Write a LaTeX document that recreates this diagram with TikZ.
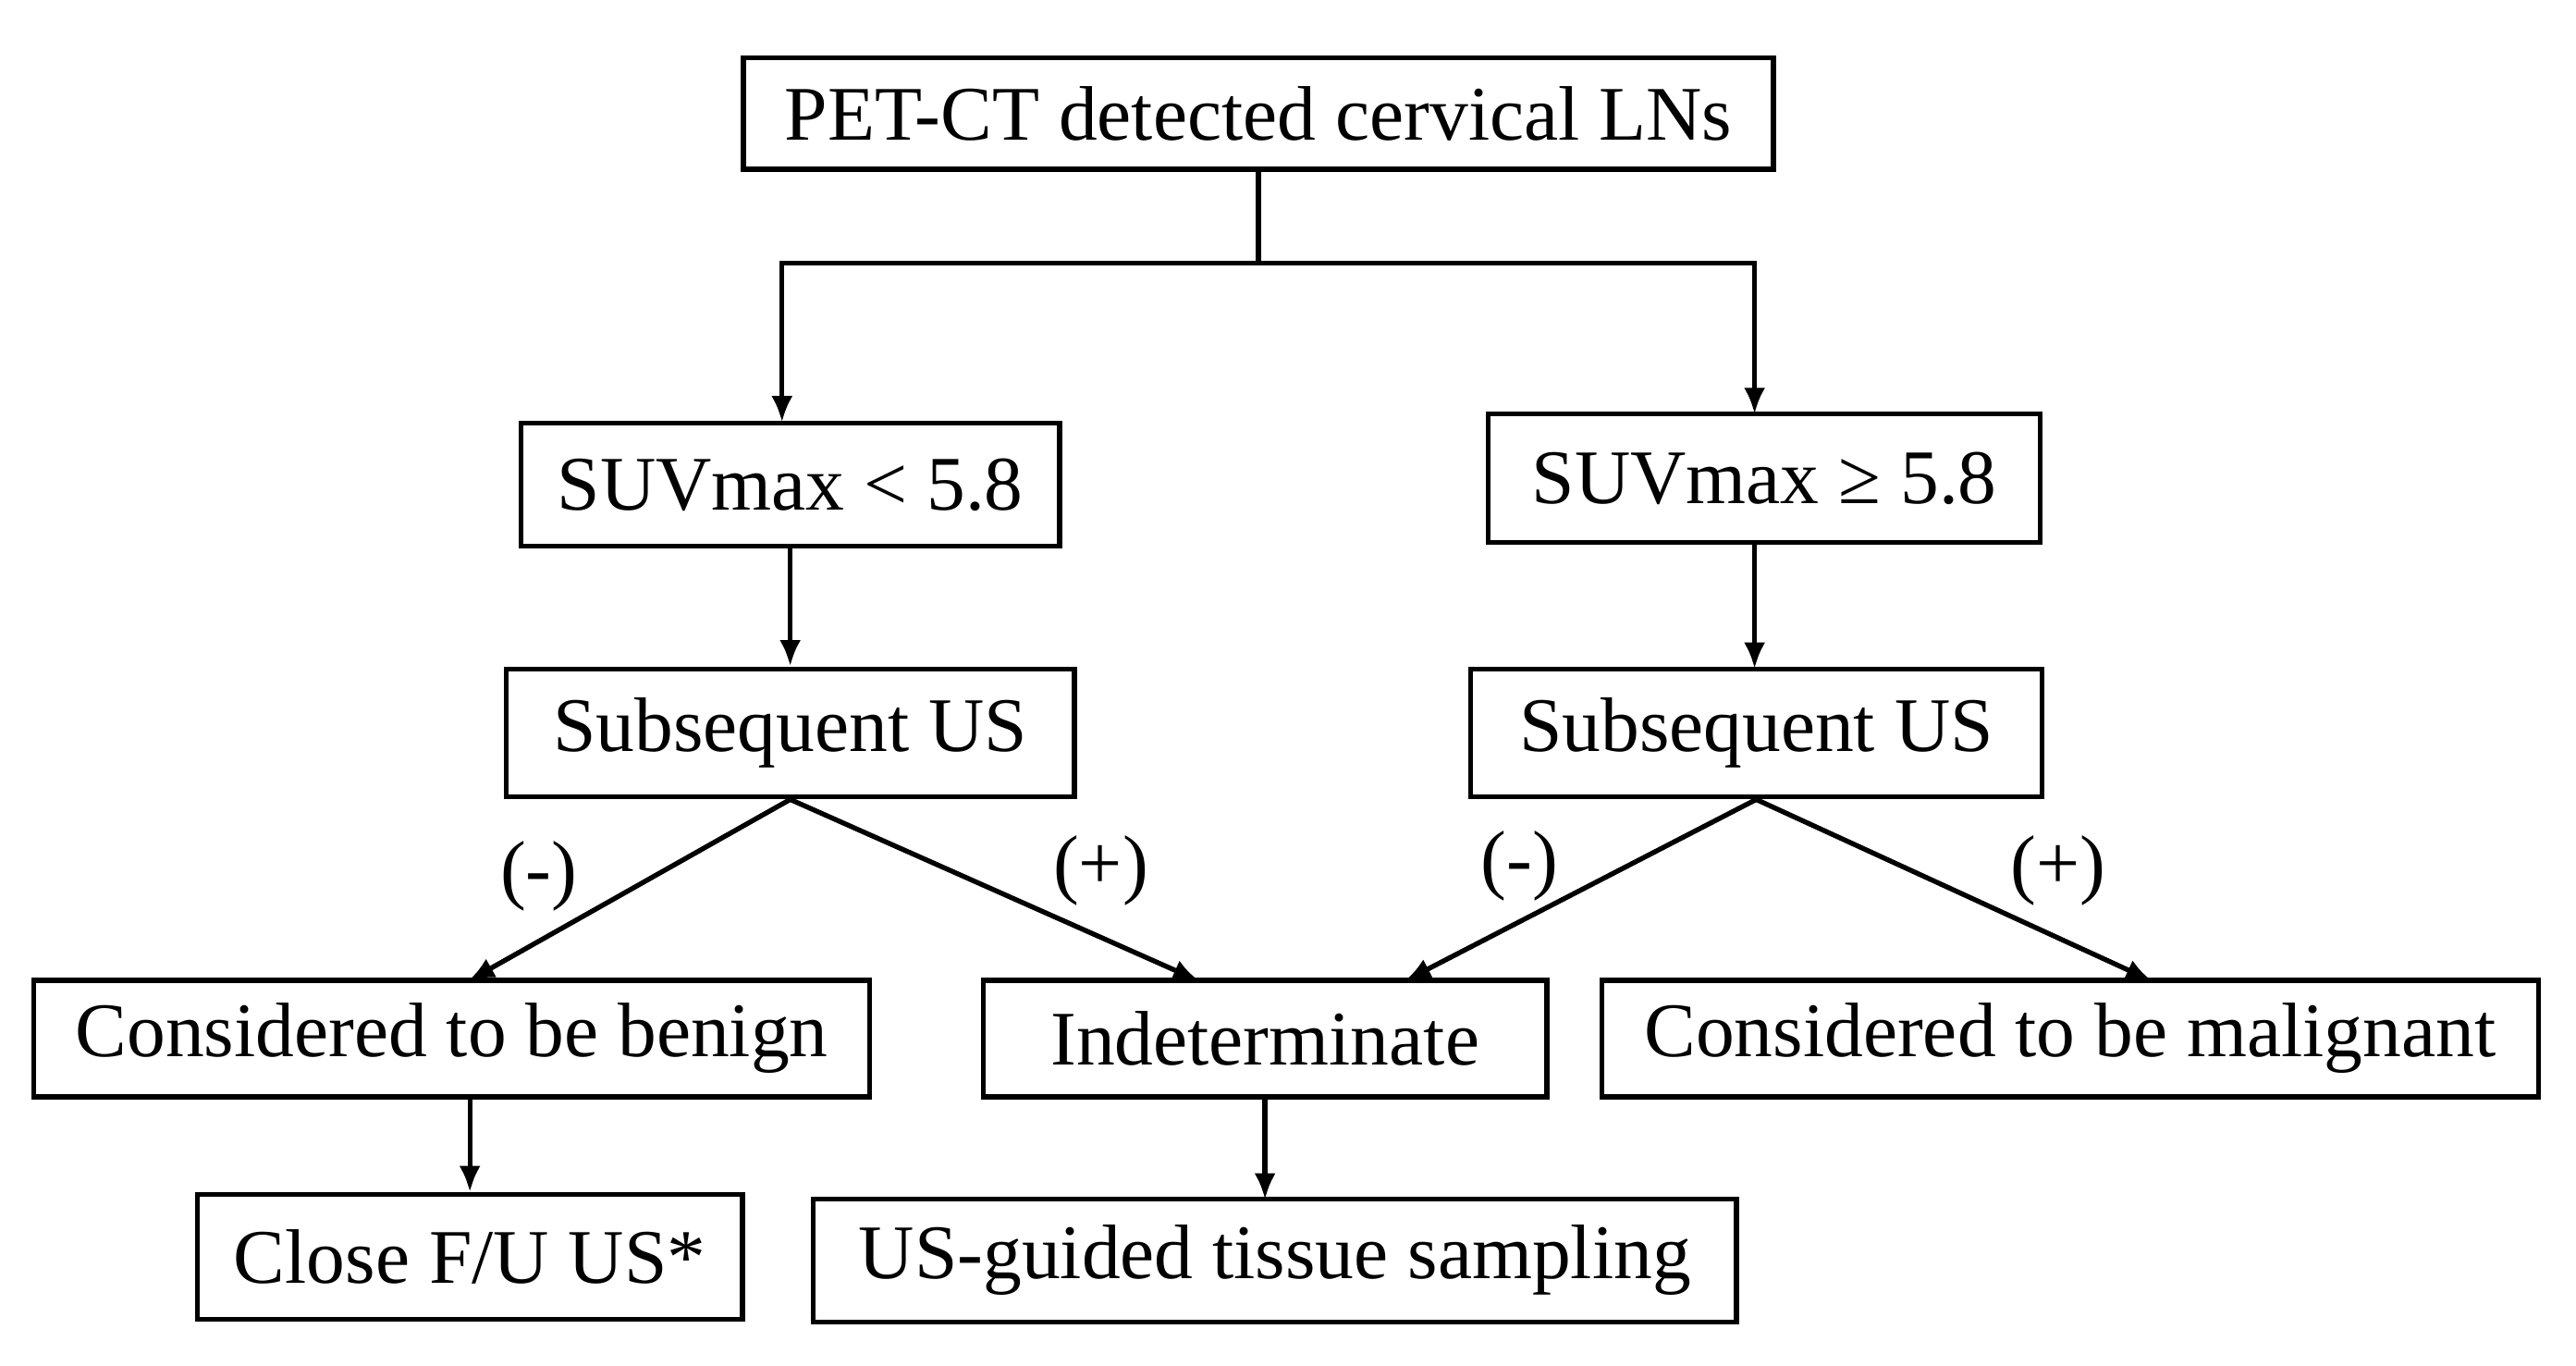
\documentclass[tikz,border=0pt]{standalone}
\usepackage{fontspec}
\setmainfont{Liberation Serif}
\usetikzlibrary{arrows.meta}
\begin{document}
\begin{tikzpicture}[x=1pt,y=-1pt,
  box/.style={draw,line width=3pt,inner sep=0pt,font=\fontsize{47}{54}\selectfont},
  lbl/.style={font=\fontsize{47}{54}\selectfont},
  arr/.style={line width=3pt,-{Latex[length=16pt,width=13pt]}}]
\useasboundingbox (0,0) rectangle (1568,831);

% boxes
\node[box,minimum width=627pt,minimum height=68pt] (pet) at (766,69) {PET-CT detected cervical LNs};
\node[box,minimum width=328pt,minimum height=75pt] (low) at (481,295) {SUVmax < 5.8};
\node[box,minimum width=336pt,minimum height=78pt] (high) at (1074,291) {SUVmax ≥ 5.8};
\node[box,minimum width=346pt,minimum height=78pt] (usl) at (481,446) {Subsequent US};
\node[box,minimum width=348pt,minimum height=78pt] (usr) at (1069,446) {Subsequent US};
\node[box,minimum width=509pt,minimum height=71pt] (ben) at (275,632) {Considered to be benign};
\node[box,minimum width=343pt,minimum height=71pt] (ind) at (770,632) {Indeterminate};
\node[box,minimum width=570pt,minimum height=71pt] (mal) at (1260,632) {Considered to be malignant};
\node[box,minimum width=332pt,minimum height=76pt] (fu) at (286,765) {Close F/U US*};
\node[box,minimum width=562pt,minimum height=75pt] (tis) at (776,767) {US-guided tissue sampling};

% connectors
\coordinate (split) at (766,160);
\draw[line width=3pt] (pet.south) -- (split);
\draw[arr] (split) -| (476,257);
\draw[arr] (split) -| (1068,252);
\draw[arr] (low.south) -- (low.south |- usl.north);
\draw[arr] (1068,330) -- (1068,407);
\draw[arr] (usl.south) -- (285,597);
\draw[arr] (usl.south) -- (730,597);
\draw[arr] (usr.south) -- (855,597);
\draw[arr] (usr.south) -- (1310,597);
\draw[arr] (286,668) -- (fu.north);
\draw[arr] (770,668) -- (770,730);

% labels
\node[lbl] (n1) at (328,533) {(-)};
\node[lbl] (p1) at (670,530) {(+)};
\node[lbl] (n2) at (925,527) {(-)};
\node[lbl] (p2) at (1253,530) {(+)};
\end{tikzpicture}
\end{document}
